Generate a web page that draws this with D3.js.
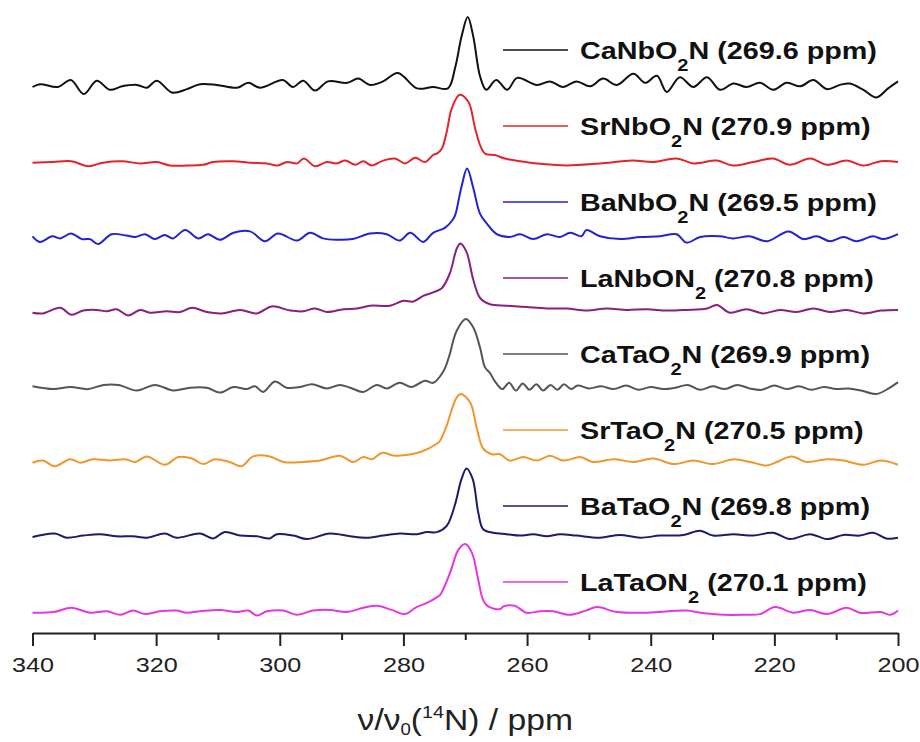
<!DOCTYPE html>
<html>
<head>
<meta charset="utf-8">
<script src="https://cdn.jsdelivr.net/npm/d3@7/dist/d3.min.js"></script>
<style>
  html, body { margin: 0; padding: 0; background: #fff; }
  svg { display: block; font-family: "Liberation Sans", Arial, sans-serif; }
</style>
</head>
<body>
<svg id="chart" width="920" height="742"></svg>
<script>
// ---------------- DATA ----------------
const majorTicks = [340, 320, 300, 280, 260, 240, 220, 200];
const minorTicks = [330, 310, 290, 270, 250, 230, 210];

const formulaMain = ["CaNbO", "SrNbO", "BaNbO", "LaNbON", "CaTaO", "SrTaO", "BaTaO", "LaTaON"];
const formulaSub  = ["2", "2", "2", "2", "2", "2", "2", "2"];
const formulaTail = ["N", "N", "N", "", "N", "N", "N", ""];
const shifts = [269.6, 270.9, 269.5, 270.8, 269.9, 270.5, 269.8, 270.1];
const colors = ["#111111", "#e3242b", "#2222d4", "#8a1f7e", "#555555", "#f0962c", "#1c1c6c", "#e438df"];

// spectra: [ppm, intensity] (intensity normalised, peak ~100)
const caNbO2N = [[340,0],[338.8,4],[335.9,0],[333.8,10],[331.7,-10],[329.6,9],[327.5,-4],[325.5,1],[323.1,3],[321.5,-1],[319.9,9],[317.4,-8],[315,-3],[312.9,4],[310.2,3],[306.9,-1],[305.1,6],[303.2,-1],[299.5,10],[297.9,0],[296.2,9],[294.3,-5],[292.2,8],[289.1,6],[287.3,12],[285.4,3],[283.3,8],[280.9,20],[277.8,-2],[275.2,0],[272.8,-2],[271.6,29],[270.6,72],[269.6,100],[268.7,72],[267.6,15],[266.6,-4],[265.0,10],[263.2,-4],[261.6,13],[258.4,3],[256.3,8],[254.2,0],[252.0,8],[249.8,1],[247.7,12],[245.5,3],[242.8,19],[240.9,6],[239.0,16],[237.4,-7],[235.3,14],[233.1,0],[230.9,14],[228.8,-4],[226.6,5],[224.5,0],[222.3,6],[220.2,-4],[218.0,6],[215.8,1],[213.7,10],[211.5,-3],[209.4,3],[207.8,5],[205.6,-4],[203.5,-15],[201.6,-2],[200,8]];

const srNbO2N = [[340,-1],[336.7,0],[333.7,1],[331.0,-6],[328.6,-1],[325.5,1],[322.6,-2],[319.9,0],[317.8,-5],[315.0,-5],[312.4,-4],[310.8,0],[307.5,1],[304.8,-1],[302.1,-2],[300.4,-5],[298.8,0],[297.2,-2],[296.1,5],[294.3,-6],[292.4,0],[290.8,-2],[289.4,2],[287.8,-4],[286.5,1],[285.1,-5],[283.3,2],[281.4,5],[279.7,-2],[278.1,6],[276.5,0],[275.2,10],[274.6,12],[273.8,19],[273.0,43],[272.2,76],[270.9,96],[269.5,86],[268.4,48],[267.6,24],[266.8,12],[265.2,10],[263.6,5],[261.1,1],[257.5,-3],[253.6,-5],[248.2,-2],[242.9,2],[239.6,0],[235.8,5],[233.1,-2],[229.3,2],[226.7,-5],[223.4,0],[220.2,5],[217.5,-4],[214.2,5],[211.5,-4],[208.3,2],[205.6,-5],[202.8,1],[200,0]];

const baNbO2N = [[340,1],[338.8,-7],[336.8,1],[335.5,-2],[333.8,5],[332.0,-3],[330.7,-3],[329.4,-10],[327.2,4],[324.8,2],[323.4,0],[321.8,4],[320.2,-3],[318.6,3],[317.3,-2],[315.3,10],[313.2,-2],[311.6,4],[309.7,-4],[307.5,6],[304.8,8],[302.4,-6],[300.3,5],[297.2,-5],[295.1,6],[293.0,-2],[290.8,-4],[288.2,-3],[285.4,5],[282.7,4],[280.6,-5],[278.9,6],[276.8,-7],[275.2,6],[273.3,13],[272.0,25],[271.6,32],[270.6,72],[269.7,98],[268.7,70],[267.6,33],[266.5,19],[264.9,4],[262.8,0],[261.1,4],[259.0,-3],[256.8,4],[254.7,0],[253.0,6],[251.2,1],[250.4,10],[248.2,1],[244.9,-3],[241.7,0],[238.5,1],[235.8,4],[234.2,-8],[232.0,0],[228.8,1],[226.7,-2],[224.0,1],[221.2,-6],[217.7,8],[215.3,-3],[213.1,1],[211.0,-6],[208.8,0],[206.7,-6],[204.0,1],[202.4,-3],[200,4]];

const laNbON2 = [[340,-1],[338.3,-2],[335.5,6],[333.7,-4],[331.8,2],[329.6,3],[328.0,1],[326.4,4],[324.5,-5],[322.6,3],[321.0,-1],[318.3,1],[316.1,0],[314.2,6],[311.8,0],[309.4,-2],[306.4,3],[303.7,-2],[301.3,8],[298.3,2],[296.2,1],[294.3,5],[292.4,0],[289.7,4],[287.5,5],[285.4,9],[282.2,9],[280.0,16],[278.4,15],[276.8,23],[275.2,28],[273.8,34],[272.5,55],[271.4,90],[270.8,98],[269.8,86],[268.7,46],[267.6,20],[266.0,11],[263.3,9],[260.1,7],[256.8,5],[253.6,5],[250.4,2],[247.1,5],[243.9,3],[240.6,4],[237.4,2],[234.2,3],[230.9,5],[229.3,10],[227.2,-1],[224.5,4],[221.8,-2],[219.1,3],[216.4,0],[213.7,5],[211.0,0],[208.3,3],[205.6,-2],[202.8,2],[200,3]];

const caTaO2N = [[340,1],[336.6,-3],[333.9,0],[331.0,-3],[328.5,3],[326.1,3],[323.1,-5],[320.2,3],[317.2,-5],[314.5,-1],[311.8,-1],[309.7,-8],[307.5,0],[305.4,-3],[304.0,1],[302.7,-7],[300.8,8],[298.9,-1],[296.7,0],[294.8,4],[292.4,-2],[290.3,3],[288.6,-1],[286.5,-7],[284.3,3],[282.7,-2],[280.6,6],[278.7,0],[276.5,9],[275.2,6],[273.5,23],[272.6,44],[271.4,80],[269.9,97],[268.7,85],[267.6,56],[266.8,28],[266.0,20],[265.2,8],[264.0,-3],[262.9,6],[261.8,-5],[260.7,5],[259.6,-4],[258.5,4],[257.4,-5],[256.2,3],[255.1,-4],[254.0,4],[252.9,-3],[251.8,2],[250.0,-2],[248.0,1],[246.0,-3],[244.0,2],[242.0,-4],[240.0,0],[238.0,-3],[236.0,-1],[234.0,3],[232.0,-4],[230.0,1],[228.0,-3],[226.0,3],[224.0,-2],[222.0,-4],[220.0,2],[218.0,-3],[216.0,1],[214.0,-4],[212.0,0],[210.0,-3],[208.0,-2],[206.0,-5],[203.5,-10],[201.5,-2],[200,7]];

const srTaO2N = [[340,-1],[338.3,2],[336.4,-6],[333.9,4],[332.3,-1],[330.2,4],[327.5,2],[325.0,4],[323.4,0],[321.5,8],[318.6,-4],[316.4,7],[314.2,5],[312.4,-3],[310.5,4],[308.1,0],[306.2,-6],[304.3,8],[301.6,8],[299.4,0],[296.2,0],[293.5,2],[290.3,9],[288.1,0],[286.5,7],[285.1,4],[283.5,13],[281.4,9],[278.7,11],[277.0,15],[274.6,26],[274.1,30],[273.0,52],[272.5,66],[271.4,92],[270.7,97],[269.2,85],[268.1,47],[267.1,19],[265.7,11],[264.4,11],[262.8,2],[260.6,7],[258.4,2],[256.3,9],[254.1,2],[251.4,7],[249.3,0],[246.0,4],[242.8,0],[239.6,5],[236.3,-3],[233.1,2],[229.9,-3],[226.6,4],[223.9,0],[221.2,-5],[219.6,0],[217.2,8],[214.8,0],[211.5,4],[208.8,2],[205.6,-4],[202.8,2],[200,-4]];

const baTaO2N = [[340,0],[336.4,5],[334.5,-1],[331.8,2],[329.1,4],[326.4,1],[323.7,1],[321.5,-1],[318.6,5],[316.7,-1],[312.9,5],[310.8,-2],[308.9,7],[306.4,2],[303.7,1],[301.6,-2],[300.5,4],[297.8,2],[295.6,-3],[291.9,5],[288.6,1],[286.0,-1],[283.3,2],[280.6,5],[277.8,4],[276.2,7],[274.6,7],[273.0,16],[271.7,45],[270.6,83],[269.8,98],[268.8,83],[267.9,35],[267.1,11],[265.5,6],[263.3,4],[261.1,2],[259.0,4],[256.8,1],[254.7,4],[252.0,2],[248.2,-1],[245.0,3],[241.7,-1],[238.5,2],[234.7,3],[232.0,9],[229.9,2],[226.6,4],[223.4,2],[220.2,6],[217.5,-3],[214.2,4],[211.5,-3],[208.8,3],[206.2,2],[204.0,6],[201.9,-2],[200,-1]];

const laTaON2 = [[340,-1],[336.6,0],[333.7,6],[330.7,-1],[328.0,1],[325.8,-4],[323.7,2],[321.8,-3],[319.4,1],[316.7,2],[315.1,-1],[312.9,1],[309.7,3],[307.0,0],[305.1,2],[303.7,-5],[302.1,1],[299.4,2],[297.3,-4],[294.6,2],[291.9,3],[289.2,0],[286.5,6],[284.3,9],[281.9,3],[279.7,-3],[278.1,6],[276.2,13],[274.6,21],[274.1,24],[272.5,55],[271.1,89],[270.0,97],[268.9,84],[267.9,46],[267.1,17],[266.3,8],[264.4,4],[263.8,8],[262.0,9],[260.1,-1],[257.9,1],[255.8,1],[253.1,-4],[250.5,2],[248.7,7],[245.5,0],[240.6,-1],[234.2,2],[232.0,-1],[228.2,-4],[225.0,-4],[222.3,-3],[219.9,7],[216.9,-1],[214.2,3],[211.5,-3],[208.3,6],[206.2,-1],[202.8,0],[201.2,-4],[200,2]];

const spectra = [caNbO2N, srNbO2N, baNbO2N, laNbON2, caTaO2N, srTaO2N, baTaO2N, laTaON2];

// ---------------- CHART ----------------
const svg = d3.select("#chart");

const x = d3.scaleLinear().domain([340, 200]).range([32.5, 898]);
const offset = d3.scaleLinear().domain([0, 7]).range([87, 612]);
const amp = d3.scaleLinear().domain([0, 100]).range([0, 70]);
const legendY = d3.scaleLinear().domain([0, 7]).range([50, 582]);

// traces
spectra.forEach((s, i) => {
  const line = d3.line()
    .x(d => x(d[0]))
    .y(d => offset(i) - amp(d[1]))
    .curve(d3.curveCatmullRom.alpha(0.5));
  svg.append("path")
    .datum(s.slice().sort((a, b) => b[0] - a[0]))
    .attr("d", line)
    .attr("fill", "none")
    .attr("stroke", colors[i])
    .attr("stroke-width", 2)
    .attr("stroke-linejoin", "round");
});

// legend
spectra.forEach((s, i) => {
  const yy = legendY(i);
  svg.append("line")
    .attr("x1", 503).attr("x2", 568)
    .attr("y1", yy).attr("y2", yy)
    .attr("stroke", colors[i]).attr("stroke-width", 1.6);
  const t = svg.append("text")
    .attr("transform", `translate(580,${yy + 8.5}) scale(1.25,1)`)
    .attr("font-size", 23)
    .attr("font-weight", "bold")
    .attr("fill", "#111");
  t.append("tspan").text(formulaMain[i]);
  t.append("tspan").attr("font-size", 16).attr("dy", 12).text(formulaSub[i]);
  t.append("tspan").attr("dy", -12).text(formulaTail[i] + " (" + shifts[i].toFixed(1) + " ppm)");
});

// axis
const axisY = 633;
const axisMajor = d3.axisBottom(x).tickValues(majorTicks).tickSize(13).tickSizeOuter(0).tickPadding(11).tickFormat(d3.format("d"));
const gAxis = svg.append("g").attr("transform", `translate(0,${axisY})`).call(axisMajor);
gAxis.select(".domain").attr("stroke", "#222").attr("stroke-width", 2);
gAxis.selectAll(".tick line").attr("stroke", "#222").attr("stroke-width", 2);
gAxis.selectAll(".tick text")
  .attr("font-size", 21)
  .attr("font-family", "Liberation Sans, Arial, sans-serif")
  .attr("fill", "#222")
  .attr("transform", "scale(1.2,1)");

const axisMinor = d3.axisBottom(x).tickValues(minorTicks).tickSize(7).tickSizeOuter(0).tickFormat("");
const gMinor = svg.append("g").attr("transform", `translate(0,${axisY})`).call(axisMinor);
gMinor.select(".domain").remove();
gMinor.selectAll(".tick line").attr("stroke", "#222").attr("stroke-width", 2);

// axis title
const title = svg.append("text")
  .attr("transform", `translate(${(x.range()[0] + x.range()[1]) / 2},730) scale(1.16,1)`)
  .attr("text-anchor", "middle")
  .attr("font-size", 29)
  .attr("fill", "#222");
title.append("tspan").text("ν/ν");
title.append("tspan").attr("font-size", 16).attr("dy", 5).text("0");
title.append("tspan").attr("dy", -5).text("(");
title.append("tspan").attr("font-size", 17).attr("dy", -12).text("14");
title.append("tspan").attr("dy", 12).text("N) / ppm");
</script>
</body>
</html>
